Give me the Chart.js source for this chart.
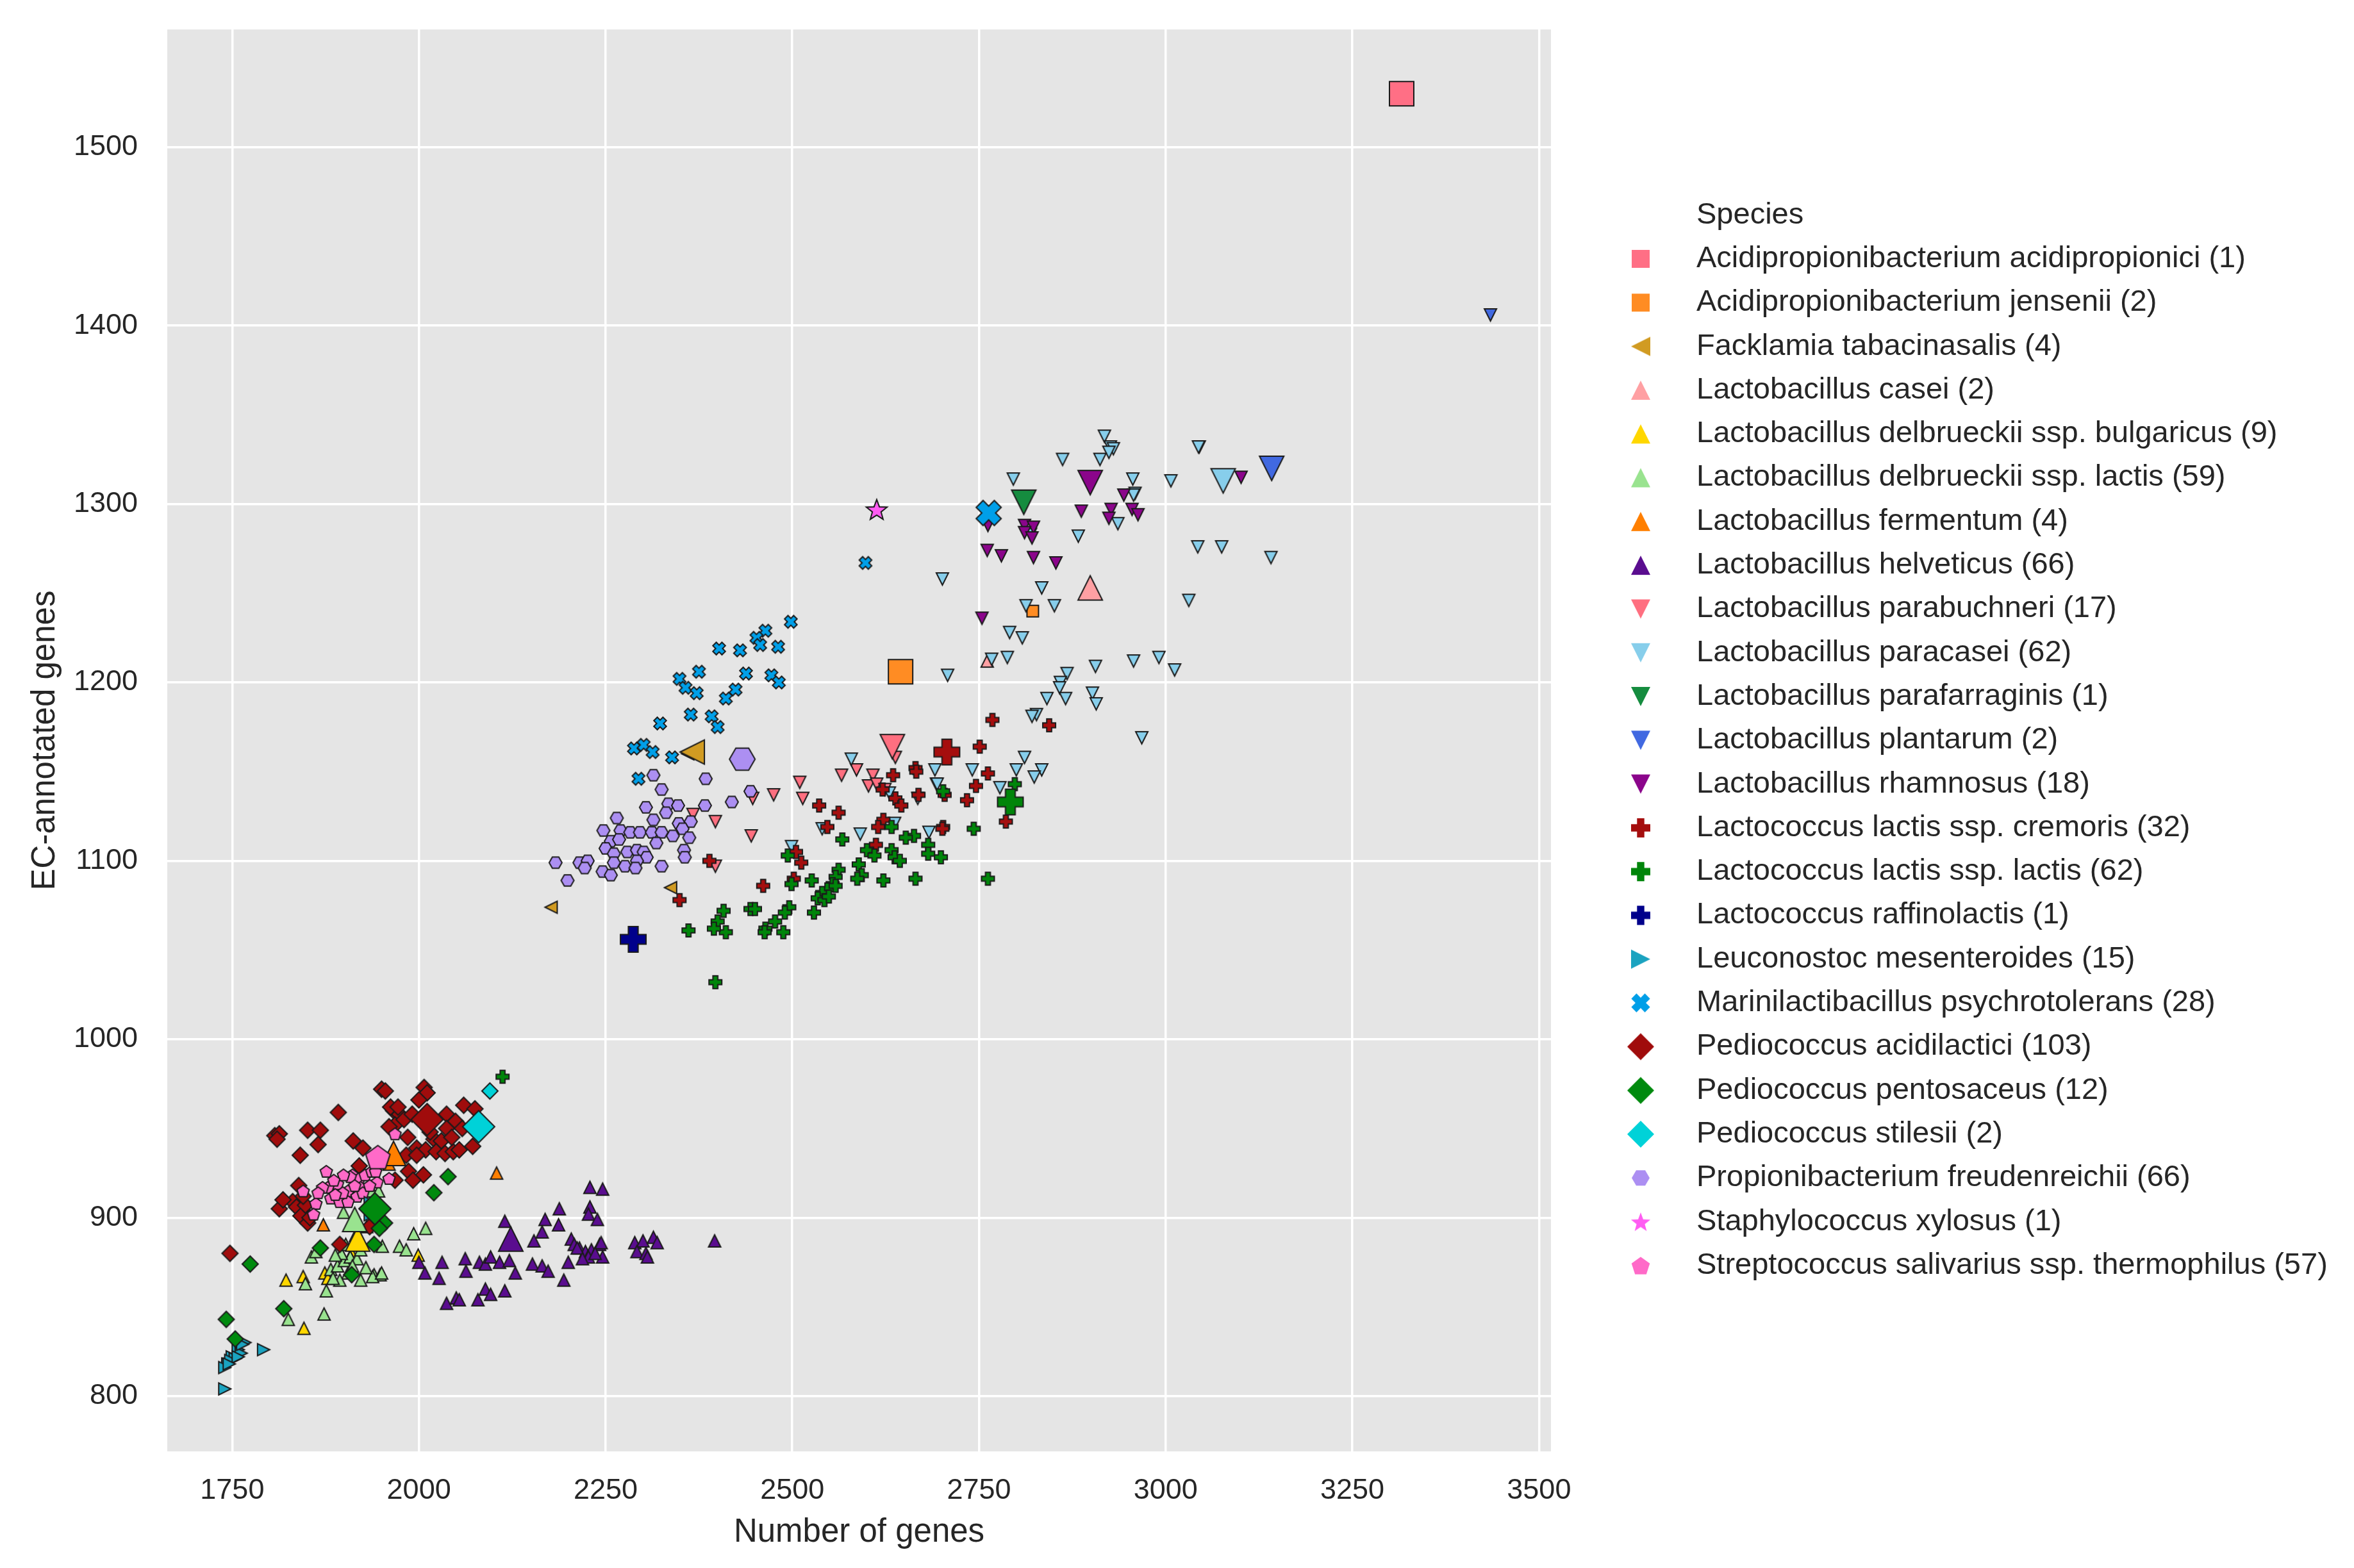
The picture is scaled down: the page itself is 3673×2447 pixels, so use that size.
<!DOCTYPE html>
<html>
<head>
<meta charset="utf-8">
<title>Number of genes vs EC-annotated genes</title>
<script src="https://cdn.jsdelivr.net/npm/chart.js@4.4.1/dist/chart.umd.min.js"></script>
<style>
  html, body { margin: 0; padding: 0; background: #fff; }
  #chart { display: block; }
</style>
</head>
<body>
<canvas id="chart" width="3673" height="2447"></canvas>
<script>
// ---- data -------------------------------------------------------------
const speciesNames = [
  'Acidipropionibacterium acidipropionici',
  'Acidipropionibacterium jensenii',
  'Facklamia tabacinasalis',
  'Lactobacillus casei',
  'Lactobacillus delbrueckii ssp. bulgaricus',
  'Lactobacillus delbrueckii ssp. lactis',
  'Lactobacillus fermentum',
  'Lactobacillus helveticus',
  'Lactobacillus parabuchneri',
  'Lactobacillus paracasei',
  'Lactobacillus parafarraginis',
  'Lactobacillus plantarum',
  'Lactobacillus rhamnosus',
  'Lactococcus lactis ssp. cremoris',
  'Lactococcus lactis ssp. lactis',
  'Lactococcus raffinolactis',
  'Leuconostoc mesenteroides',
  'Marinilactibacillus psychrotolerans',
  'Pediococcus acidilactici',
  'Pediococcus pentosaceus',
  'Pediococcus stilesii',
  'Propionibacterium freudenreichii',
  'Staphylococcus xylosus',
  'Streptococcus salivarius ssp. thermophilus'
];
const speciesCounts = [1, 2, 4, 2, 9, 59, 4, 66, 17, 62, 1, 2, 18, 32, 62, 1, 15, 28, 103, 12, 2, 66, 1, 57];

// reference genome of each species (the large marker)
const refGenes = [3316, 2645, 2366, 2899, 1918, 1914, 1966, 2123, 2634, 3077, 2810, 3142,
                  2899, 2707, 2792, 2287, 1943, 2763, 2011, 1941, 2080, 2433, 2613, 1945];
const refEC    = [1530, 1206, 1161, 1253, 888, 899, 936, 888, 1164, 1313, 1301, 1320,
                  1312, 1161, 1133, 1056, 905, 1295, 955, 905, 951, 1157, 1297, 934];

// other genomes: [number of genes, EC-annotated genes]
const acidipropioniciPts = [];
const jenseniiPts = [[2822, 1240]];
const facklamiaPts = [[2337, 1085], [2177, 1074], [2360, 1160]];
const caseiPts = [[2761, 1212]];
const bulgaricusPts = [[1822, 865], [1845, 867], [1874, 869], [1878, 866], [1999, 879], [1846, 838], [1910, 880]];
const delbLactisPts = [[1899, 903], [1937, 915], [1946, 915], [1993, 891], [2009, 894], [1974, 884], [1983, 882],
  [1951, 884], [1856, 878], [1848, 863], [1876, 859], [1882, 871], [1891, 873], [1900, 876], [1908, 878],
  [1917, 877], [1905, 869], [1894, 865], [1885, 866], [1922, 865], [1940, 868], [1948, 868], [1911, 873],
  [1922, 882], [1873, 846], [1825, 843], [1938, 867], [1950, 869], [1896, 880], [1929, 872], [1915, 890],
  [1930, 895], [1902, 885], [1888, 879], [1862, 881]];
const fermentumPts = [[1872, 896], [2104, 925], [1960, 930]];
const helveticusPts = [[2229, 917], [2246, 916], [2229, 906], [2227, 902], [2239, 899], [2188, 905], [2169, 899],
  [2165, 892], [2187, 896], [2154, 887], [2115, 898], [2204, 888], [2208, 885], [2215, 883], [2223, 881],
  [2231, 882], [2242, 885], [2246, 878], [2227, 878], [2200, 875], [2194, 865], [2000, 875], [2008, 869],
  [2031, 875], [2027, 866], [2062, 877], [2063, 870], [2081, 875], [2089, 874], [2096, 878], [2108, 875],
  [2121, 876], [2129, 869], [2152, 874], [2165, 873], [2173, 870], [2037, 852], [2050, 855], [2054, 854],
  [2079, 854], [2089, 860], [2096, 857], [2115, 859], [2396, 887], [2289, 886], [2300, 887], [2314, 889],
  [2319, 886], [2292, 881], [2304, 880], [2306, 878], [2212, 883], [2244, 886], [2219, 877], [2236, 880]];
const parabuchneriPts = [[2367, 1126], [2397, 1122], [2445, 1114], [2447, 1135], [2475, 1137], [2510, 1144],
  [2514, 1135], [2397, 1097], [2566, 1148], [2586, 1151], [2608, 1148], [2602, 1142], [2613, 1143],
  [2624, 1140], [2638, 1158]];
const paracaseiPts = [[2918, 1338], [2926, 1332], [2930, 1331], [2924, 1329], [3045, 1332], [2862, 1325],
  [2912, 1325], [2796, 1314], [2956, 1314], [3007, 1313], [2959, 1306], [2936, 1289], [2883, 1282],
  [2819, 1283], [3043, 1276], [3075, 1276], [3141, 1270], [2701, 1258], [2834, 1253], [2813, 1243],
  [2851, 1243], [3031, 1246], [2791, 1228], [2808, 1225], [2767, 1213], [2788, 1214], [2708, 1204],
  [2906, 1209], [2957, 1212], [2991, 1214], [3012, 1207], [2868, 1205], [2859, 1200], [2858, 1197],
  [2841, 1191], [2866, 1191], [2902, 1194], [2907, 1188], [2827, 1182], [2821, 1181], [2968, 1169],
  [2811, 1158], [2834, 1151], [2824, 1147], [2800, 1151], [2741, 1151], [2691, 1151], [2693, 1143],
  [2778, 1141], [2683, 1116], [2579, 1157], [2694, 1143], [2668, 1135], [2630, 1138], [2540, 1118],
  [2591, 1115], [2637, 1121], [2499, 1108], [2957, 1305], [3044, 1332]];
const parafarraginisPts = [];
const plantarumPts = [[3435, 1406]];
const rhamnosusPts = [[3101, 1315], [2944, 1305], [2887, 1296], [2927, 1297], [2924, 1292], [2955, 1297],
  [2963, 1294], [2811, 1288], [2823, 1287], [2811, 1284], [2821, 1281], [2762, 1288], [2761, 1274],
  [2780, 1271], [2823, 1270], [2853, 1267], [2754, 1236]];
const cremorisPts = [[2768, 1179], [2751, 1164], [2665, 1152], [2666, 1150], [2635, 1148], [2762, 1149],
  [2746, 1142], [2621, 1140], [2638, 1135], [2646, 1131], [2669, 1137], [2704, 1137], [2734, 1134],
  [2786, 1122], [2702, 1119], [2622, 1123], [2615, 1119], [2612, 1109], [2536, 1131], [2562, 1127],
  [2547, 1119], [2505, 1105], [2512, 1099], [2389, 1100], [2461, 1086], [2349, 1078], [2502, 1090],
  [2844, 1176], [2701, 1118]];
const lactisPts = [[2798, 1143], [2743, 1118], [2762, 1090], [2702, 1139], [2682, 1109], [2682, 1104],
  [2699, 1102], [2663, 1114], [2652, 1113], [2633, 1119], [2633, 1106], [2637, 1102], [2644, 1100],
  [2567, 1112], [2589, 1098], [2593, 1092], [2587, 1090], [2622, 1089], [2665, 1090], [2562, 1095],
  [2558, 1091], [2554, 1087], [2547, 1084], [2540, 1082], [2534, 1079], [2543, 1078], [2529, 1071],
  [2549, 1080], [2558, 1086], [2526, 1089], [2499, 1087], [2494, 1103], [2496, 1074], [2490, 1071],
  [2444, 1073], [2450, 1073], [2408, 1072], [2400, 1066], [2411, 1060], [2395, 1062], [2361, 1061],
  [2464, 1062], [2477, 1066], [2488, 1060], [2463, 1060], [2397, 1032], [2112, 979], [2600, 1106],
  [2610, 1103]];
const raffinolactisPts = [];
const leuconostocPts = [[1767, 830], [1758, 826], [1750, 822], [1744, 818], [1740, 816], [1754, 821],
  [1762, 824], [1792, 826], [1740, 804], [1764, 829], [1748, 820], [1758, 822], [1746, 818]];
const marinilactiPts = [[2498, 1234], [2464, 1229], [2452, 1225], [2457, 1221], [2481, 1220], [2402, 1219],
  [2430, 1218], [2375, 1206], [2438, 1205], [2349, 1202], [2357, 1197], [2372, 1194], [2424, 1196],
  [2411, 1191], [2472, 1204], [2482, 1200], [2364, 1182], [2392, 1181], [2400, 1175], [2323, 1177],
  [2288, 1163], [2301, 1165], [2313, 1161], [2339, 1158], [2294, 1146], [2598, 1267]];
const acidilacticiPts = [[1950, 972], [1955, 971], [2007, 973], [2011, 970], [1892, 959], [1807, 946],
  [1813, 947], [1810, 944], [1851, 949], [1868, 949], [1865, 941], [1841, 935], [1912, 943], [1925, 939],
  [1920, 929], [1966, 960], [1974, 958], [1968, 952], [1960, 951], [1980, 955], [1991, 958], [2037, 958],
  [2060, 963], [2075, 961], [2049, 954], [2037, 950], [2020, 944], [2030, 943], [1997, 939], [2009, 938],
  [2023, 937], [2035, 936], [2046, 937], [1983, 935], [1997, 935], [2072, 940], [1986, 926], [2006, 924],
  [1992, 921], [1968, 921], [1839, 918], [1813, 905], [1831, 909], [1836, 906], [1842, 901], [1851, 897],
  [1848, 907], [1854, 900], [1894, 885], [1747, 880], [1934, 895], [1962, 962], [1972, 962], [2000, 966],
  [2015, 948], [2044, 945], [2058, 950], [1985, 945], [1818, 910], [1845, 912], [2054, 938]];
const pentosaceusPts = [[1954, 897], [1947, 894], [1940, 885], [1868, 883], [1774, 874], [2039, 923],
  [2020, 914], [1910, 868], [1819, 849], [1742, 843], [1754, 832]];
const stilesiiPts = [[2095, 971]];
const freudenreichiiPts = [[2314, 1148], [2384, 1146], [2325, 1140], [2444, 1139], [2419, 1133], [2383, 1131],
  [2304, 1130], [2265, 1124], [2334, 1132], [2347, 1131], [2331, 1127], [2314, 1123], [2348, 1121],
  [2364, 1122], [2353, 1118], [2340, 1114], [2362, 1113], [2355, 1106], [2356, 1102], [2247, 1117],
  [2270, 1117], [2283, 1116], [2296, 1116], [2312, 1116], [2325, 1116], [2257, 1111], [2268, 1112],
  [2318, 1110], [2250, 1107], [2261, 1104], [2279, 1105], [2292, 1106], [2301, 1105], [2305, 1102],
  [2292, 1100], [2276, 1097], [2290, 1096], [2325, 1097], [2261, 1099], [2246, 1094], [2257, 1092],
  [2215, 1099], [2226, 1100], [2222, 1096], [2183, 1099], [2199, 1089]];
const xylosusPts = [];
const thermophilusPts = [[1968, 947], [1876, 926], [1891, 919], [1878, 917], [1905, 915], [1911, 924],
  [1920, 922], [1928, 924], [1937, 926], [1944, 920], [1960, 922], [1922, 917], [1917, 912], [1882, 911],
  [1894, 909], [1862, 908], [1859, 902], [1845, 915], [1871, 917], [1905, 909], [1925, 914], [1908, 923],
  [1899, 924], [1886, 921], [1934, 918], [1942, 926], [1865, 914], [1898, 914], [1914, 918], [1888, 913]];

const otherPts = [acidipropioniciPts, jenseniiPts, facklamiaPts, caseiPts, bulgaricusPts, delbLactisPts,
  fermentumPts, helveticusPts, parabuchneriPts, paracaseiPts, parafarraginisPts, plantarumPts,
  rhamnosusPts, cremorisPts, lactisPts, raffinolactisPts, leuconostocPts, marinilactiPts,
  acidilacticiPts, pentosaceusPts, stilesiiPts, freudenreichiiPts, xylosusPts, thermophilusPts];

const xTickValues = [1750, 2000, 2250, 2500, 2750, 3000, 3250, 3500];
const yTickValues = [800, 900, 1000, 1100, 1200, 1300, 1400, 1500];

// ---- styles -----------------------------------------------------------
const speciesColors = ['#FF6F85', '#FF8C23', '#D19B22', '#FFA0A3', '#FFD700', '#99E38F', '#FF7F00', '#5A0D8F',
  '#FF6F80', '#87CEEB', '#158C3F', '#4169E1', '#8B058B', '#A50E0E', '#00850A', '#00008B',
  '#1BA3C0', '#009FE8', '#A00C0C', '#008A0E', '#00D2D8', '#AC8FF2', '#FF5CF2', '#FF6AC8'];
const speciesShapes = ['square', 'square', 'triLeft', 'triUp', 'triUp', 'triUp', 'triUp', 'triUp',
  'triDown', 'triDown', 'triDown', 'triDown', 'triDown', 'plus', 'plus', 'plus',
  'triRight', 'xmark', 'diamond', 'diamond', 'diamond', 'hexagon', 'star', 'pentagon'];

const smallSize = { square: 18, triUp: 19, triDown: 19, triLeft: 19, triRight: 19, plus: 20, xmark: 20, diamond: 25, hexagon: 20, star: 22, pentagon: 20 };
const bigSize = { square: 38, triUp: 38, triDown: 38, triLeft: 38, triRight: 38, plus: 40, xmark: 40, diamond: 50, hexagon: 40, star: 34, pentagon: 40 };
const legendSize = { square: 28, triUp: 30, triDown: 30, triLeft: 30, triRight: 30, plus: 30, xmark: 30, diamond: 42, hexagon: 28, star: 32, pentagon: 30 };

const FONT = '"Liberation Sans", Arial, Helvetica, sans-serif';
const TEXT = '#262626';
const EDGE = '#1a1a1a';

function polygon(g, pts) {
  g.moveTo(pts[0][0], pts[0][1]);
  for (let i = 1; i < pts.length; i++) g.lineTo(pts[i][0], pts[i][1]);
  g.closePath();
}

function traceShape(g, shape, r) {
  const a = r * 0.38;
  const plusPts = [[-a, -r], [a, -r], [a, -a], [r, -a], [r, a], [a, a], [a, r], [-a, r], [-a, a], [-r, a], [-r, -a], [-a, -a]];
  switch (shape) {
    case 'square': g.rect(-r, -r, 2 * r, 2 * r); break;
    case 'triUp': polygon(g, [[0, -r], [r, r], [-r, r]]); break;
    case 'triDown': polygon(g, [[0, r], [r, -r], [-r, -r]]); break;
    case 'triLeft': polygon(g, [[-r, 0], [r, -r], [r, r]]); break;
    case 'triRight': polygon(g, [[r, 0], [-r, -r], [-r, r]]); break;
    case 'diamond': polygon(g, [[0, -r], [r, 0], [0, r], [-r, 0]]); break;
    case 'plus': polygon(g, plusPts); break;
    case 'xmark': {
      const c = Math.SQRT1_2;
      polygon(g, plusPts.map(([x, y]) => [(x - y) * c, (x + y) * c]));
      break;
    }
    case 'hexagon': {
      const pts = [];
      for (let k = 0; k < 6; k++) pts.push([r * Math.cos(k * Math.PI / 3), r * Math.sin(k * Math.PI / 3)]);
      polygon(g, pts);
      break;
    }
    case 'pentagon': {
      const pts = [];
      for (let k = 0; k < 5; k++) {
        const t = -Math.PI / 2 + k * 2 * Math.PI / 5;
        pts.push([r * Math.cos(t), r * Math.sin(t) + r * 0.1]);
      }
      polygon(g, pts);
      break;
    }
    case 'star': {
      const pts = [];
      for (let k = 0; k < 10; k++) {
        const t = -Math.PI / 2 + k * Math.PI / 5;
        const rr = k % 2 ? r * 0.42 : r;
        pts.push([rr * Math.cos(t), rr * Math.sin(t) + r * 0.1]);
      }
      polygon(g, pts);
      break;
    }
  }
}

function markerCanvas(shape, size, fill, edge) {
  const lw = edge ? 2 : 0;
  const dim = Math.ceil(size + lw * 2 + 4);
  const c = document.createElement('canvas');
  c.width = dim;
  c.height = dim;
  const g = c.getContext('2d');
  g.translate(dim / 2, dim / 2);
  g.beginPath();
  traceShape(g, shape, size / 2);
  g.fillStyle = fill;
  g.fill();
  if (edge) {
    g.lineWidth = lw;
    g.lineJoin = 'miter';
    g.strokeStyle = edge;
    g.stroke();
  }
  return c;
}

// ---- datasets ---------------------------------------------------------
const datasets = [];
speciesNames.forEach((name, i) => {
  datasets.push({
    label: name,
    data: otherPts[i].map(([x, y]) => ({ x, y })),
    pointStyle: markerCanvas(speciesShapes[i], smallSize[speciesShapes[i]], speciesColors[i], EDGE),
    pointRadius: 10,
    order: 200 - i
  });
});
speciesNames.forEach((name, i) => {
  datasets.push({
    label: name + ' (reference)',
    data: [{ x: refGenes[i], y: refEC[i] }],
    pointStyle: markerCanvas(speciesShapes[i], bigSize[speciesShapes[i]], speciesColors[i], EDGE),
    pointRadius: 20,
    order: 100 - i
  });
});

const legendMarkers = speciesShapes.map((s, i) => markerCanvas(s, legendSize[s], speciesColors[i], null));

// ---- plugins ----------------------------------------------------------
const panelBackground = {
  id: 'panelBackground',
  beforeDraw(chart) {
    const { ctx, chartArea: a } = chart;
    ctx.save();
    ctx.fillStyle = '#E5E5E5';
    ctx.fillRect(a.left, a.top, a.right - a.left, a.bottom - a.top);
    ctx.restore();
  }
};

const speciesLegend = {
  id: 'speciesLegend',
  afterDraw(chart) {
    const ctx = chart.ctx;
    const markerX = 2560, textX = 2647, titleY = 336, firstY = 404, rowGap = 68.3;
    ctx.save();
    ctx.font = '47px ' + FONT;
    ctx.fillStyle = TEXT;
    ctx.textBaseline = 'middle';
    ctx.textAlign = 'left';
    ctx.fillText('Species', textX, titleY);
    speciesNames.forEach((name, i) => {
      const y = firstY + i * rowGap;
      const m = legendMarkers[i];
      ctx.drawImage(m, markerX - m.width / 2, y - m.height / 2);
      ctx.fillText(name + ' (' + speciesCounts[i] + ')', textX, y);
    });
    ctx.restore();
  }
};

// ---- chart ------------------------------------------------------------
new Chart(document.getElementById('chart'), {
  type: 'scatter',
  data: { datasets },
  options: {
    responsive: false,
    devicePixelRatio: 1,
    animation: false,
    events: [],
    layout: { padding: { top: 46, right: 1253, bottom: 0, left: 0 } },
    plugins: {
      legend: { display: false },
      tooltip: { enabled: false }
    },
    scales: {
      x: {
        type: 'linear',
        min: 1663,
        max: 3516,
        afterBuildTicks: (scale) => { scale.ticks = xTickValues.map(v => ({ value: v })); },
        afterFit: (scale) => {
          scale.height = 182;
          scale.paddingLeft = 0;
          scale.paddingRight = 0;
        },
        grid: { color: '#ffffff', lineWidth: 3.5, drawTicks: false },
        border: { display: false },
        ticks: {
          padding: 35,
          color: TEXT,
          font: { family: FONT, size: 45 },
          callback: (v) => String(v)
        },
        title: {
          display: true,
          text: 'Number of genes',
          color: TEXT,
          font: { family: FONT, size: 51 },
          padding: { top: 0, bottom: 24 }
        }
      },
      y: {
        type: 'linear',
        min: 769,
        max: 1566,
        afterBuildTicks: (scale) => { scale.ticks = yTickValues.map(v => ({ value: v })); },
        afterFit: (scale) => {
          scale.width = 261;
          scale.paddingTop = 0;
          scale.paddingBottom = 0;
        },
        grid: { color: '#ffffff', lineWidth: 3.5, drawTicks: false },
        border: { display: false },
        ticks: {
          padding: 46,
          color: TEXT,
          font: { family: FONT, size: 45 },
          callback: (v) => String(v)
        },
        title: {
          display: true,
          text: 'EC-annotated genes',
          color: TEXT,
          font: { family: FONT, size: 51 },
          padding: { top: 40, bottom: 0 }
        }
      }
    }
  },
  plugins: [panelBackground, speciesLegend]
});
</script>
</body>
</html>
